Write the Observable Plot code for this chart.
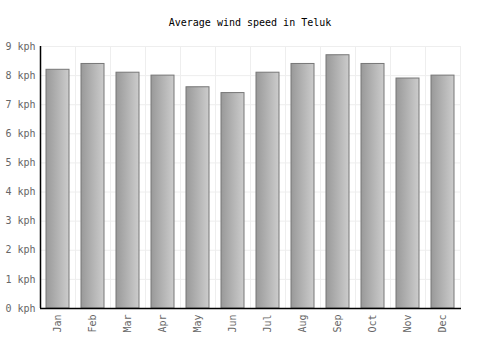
<!DOCTYPE html>
<html><head><meta charset="utf-8">
<script src="https://cdn.jsdelivr.net/npm/d3@7"></script>
<script src="https://cdn.jsdelivr.net/npm/@observablehq/plot@0.6"></script>
<style>
body{margin:0;background:#fff;}
#title{height:35px;width:500px;text-align:center;font:10px "DejaVu Sans Mono",monospace;color:#000;line-height:46px;}
</style></head>
<body>
<div id="title">Average wind speed in Teluk</div>
<div id="chart"></div>
<script>
const months = ["Jan","Feb","Mar","Apr","May","Jun","Jul","Aug","Sep","Oct","Nov","Dec"];
const speeds = [8.2, 8.4, 8.1, 8.0, 7.6, 7.4, 8.1, 8.4, 8.7, 8.4, 7.9, 8.0];
const yTicks = [0,1,2,3,4,5,6,7,8,9];
const data = months.map((m,i)=>({month:m, value:speeds[i]}));

const chart = Plot.plot({
  width: 500, height: 315,
  marginLeft: 40, marginRight: 39, marginTop: 11, marginBottom: 42,
  style: {fontFamily: '"DejaVu Sans Mono", monospace', fontSize: "10px", color: "#666", background: "#fff"},
  x: {domain: months, paddingInner: 0.33, paddingOuter: 0.165, label: null, tickSize: 0, tickRotate: -90, tickPadding: 6},
  y: {domain: [0, 9], ticks: yTicks, tickFormat: d => d + " kph", label: null, tickSize: 0, tickPadding: 5},
  marks: [
    Plot.gridY(yTicks, {stroke: "#eee", strokeOpacity: 1}),
    Plot.ruleX(months, {x: d => d, dx: 17.5, stroke: "#eee"}),
    Plot.barY(data, {x: "month", y: "value", fill: "url(#barGrad)", stroke: "#777", strokeWidth: 1}),
    Plot.ruleY([0], {stroke: "#000", strokeWidth: 1.5}),
    Plot.axisY({ticks: yTicks, tickFormat: d => d + " kph", tickSize: 0, tickPadding: 5, label: null}),
    Plot.ruleX([months[0]], {x: d => d, dx: -17.5, stroke: "#000", strokeWidth: 1.5})
  ]
});
const ns = "http://www.w3.org/2000/svg";
const defs = document.createElementNS(ns, "defs");
defs.innerHTML = '<linearGradient id="barGrad" x1="0" x2="1" y1="0" y2="0"><stop offset="0" stop-color="#999"/><stop offset="1" stop-color="#ccc"/></linearGradient>';
chart.insertBefore(defs, chart.firstChild);
document.getElementById("chart").appendChild(chart);
</script>
</body></html>
